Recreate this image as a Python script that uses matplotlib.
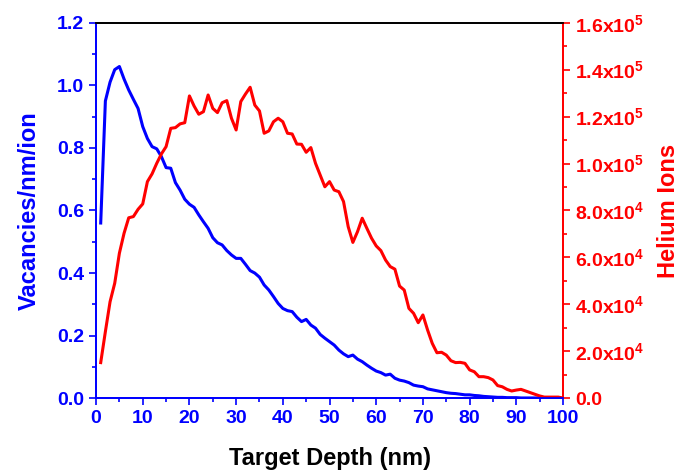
import matplotlib
matplotlib.use("Agg")
import matplotlib.pyplot as plt
from matplotlib.ticker import MultipleLocator, FuncFormatter
import numpy as np

plt.rcParams['font.family'] = ['Liberation Sans', 'DejaVu Sans']
plt.rcParams['font.weight'] = 'bold'
plt.rcParams['mathtext.fontset'] = 'custom'
plt.rcParams['mathtext.rm'] = 'Liberation Sans:bold'
plt.rcParams['mathtext.default'] = 'rm'

# depth in nm
depth = np.arange(1, 101)

# vacancies/nm/ion (blue)
vacancies = [0.56, 0.95, 1.01, 1.05, 1.06, 1.02, 0.985, 0.955, 0.926, 0.868,
             0.83, 0.804, 0.797, 0.772, 0.737, 0.735, 0.689, 0.665, 0.636, 0.62,
             0.61, 0.586, 0.564, 0.543, 0.513, 0.497, 0.49, 0.472, 0.458, 0.447,
             0.447, 0.428, 0.408, 0.40, 0.387, 0.362, 0.346, 0.325, 0.303, 0.287,
             0.28, 0.277, 0.259, 0.245, 0.252, 0.234, 0.224, 0.204, 0.192, 0.181,
             0.17, 0.154, 0.142, 0.133, 0.138, 0.125, 0.117, 0.106, 0.096, 0.087,
             0.082, 0.074, 0.077, 0.064, 0.058, 0.055, 0.05, 0.042, 0.039, 0.037,
             0.03, 0.027, 0.024, 0.021, 0.018, 0.016, 0.015, 0.013, 0.011, 0.011,
             0.009, 0.008, 0.006, 0.005, 0.004, 0.003, 0.003, 0.002, 0.002, 0.002,
             0.001, 0.001, 0.001, 0.001, 0.001, 0.001, 0.0, 0.0, 0.0, 0.0]

# helium ions (red)
helium = [15200, 28400, 41100, 49000, 61800, 70300, 76900, 77400, 80500, 82800,
          92300, 95600, 100100, 104100, 107200, 115000, 115300, 116900, 117400, 128800,
          124500, 121000, 122100, 129200, 123500, 121700, 125900, 126800, 119300, 114300,
          126400, 129600, 132500, 124900, 122400, 112900, 113900, 117800, 119300, 117800,
          112900, 112600, 108300, 108200, 104800, 106800, 100100, 95100, 90100, 92300,
          88700, 88000, 83800, 73100, 66400, 71000, 76700, 72400, 68200, 64900,
          62900, 58900, 56100, 55000, 47800, 46100, 38300, 36200, 32200, 35500,
          29100, 23400, 19400, 19600, 18400, 16000, 15200, 15300, 14900, 12100,
          11300, 9200, 9200, 8800, 7800, 5400, 4900, 3800, 3100, 3500,
          3800, 3100, 2400, 1700, 1000, 500, 500, 500, 500, 100]

blue = '#0000ff'
red = '#ff0000'

fig = plt.figure(figsize=(6.86, 4.71), dpi=100)
ax = fig.add_axes([0.14, 0.1544, 0.6807, 0.7974])
ax2 = ax.twinx()

ax.plot(depth, vacancies, color=blue, lw=2.2, zorder=3)
ax2.plot(depth, helium, color=red, lw=2.2)

ax.set_xlim(0, 100)
ax.set_ylim(0, 1.2)
ax2.set_ylim(0, 1.6e5)

ax.xaxis.set_major_locator(MultipleLocator(10))
ax.xaxis.set_minor_locator(MultipleLocator(5))
ax.yaxis.set_major_locator(MultipleLocator(0.2))
ax.yaxis.set_minor_locator(MultipleLocator(0.1))
ax.yaxis.set_major_formatter(FuncFormatter(lambda v, p: '%.1f' % v))
ax2.yaxis.set_major_locator(MultipleLocator(2e4))
ax2.yaxis.set_minor_locator(MultipleLocator(1e4))


def sci(v, p):
    if v <= 0:
        return '0.0'
    e = int(np.floor(np.log10(v)))
    m = v / 10 ** e
    return '%.1fx10$^{%d}$' % (m, e)


ax2.yaxis.set_major_formatter(FuncFormatter(sci))

for a in (ax, ax2):
    a.tick_params(which='major', direction='out', length=5, width=1.2)
    a.tick_params(which='minor', direction='out', length=3, width=1.2)

ax.tick_params(axis='x', which='both', colors=blue, labelsize=14)
ax.tick_params(axis='y', which='both', colors=blue, labelsize=14)
ax2.tick_params(axis='y', which='both', colors=red, labelsize=14)

for a in (ax, ax2):
    a.spines['left'].set_color(blue)
    a.spines['bottom'].set_color(blue)
    a.spines['right'].set_color(red)
    a.spines['top'].set_color('black')
    for s in a.spines.values():
        s.set_linewidth(1.3)

ax.set_xlabel('Target Depth (nm)', fontsize=17, fontweight='bold', color='black', labelpad=14)
ax.set_ylabel('Vacancies/nm/ion', fontsize=17, fontweight='bold', color=blue, labelpad=12)
ax2.set_ylabel('Helium Ions', fontsize=17, fontweight='bold', color=red, labelpad=9)

fig.savefig('out.png', dpi=100)
